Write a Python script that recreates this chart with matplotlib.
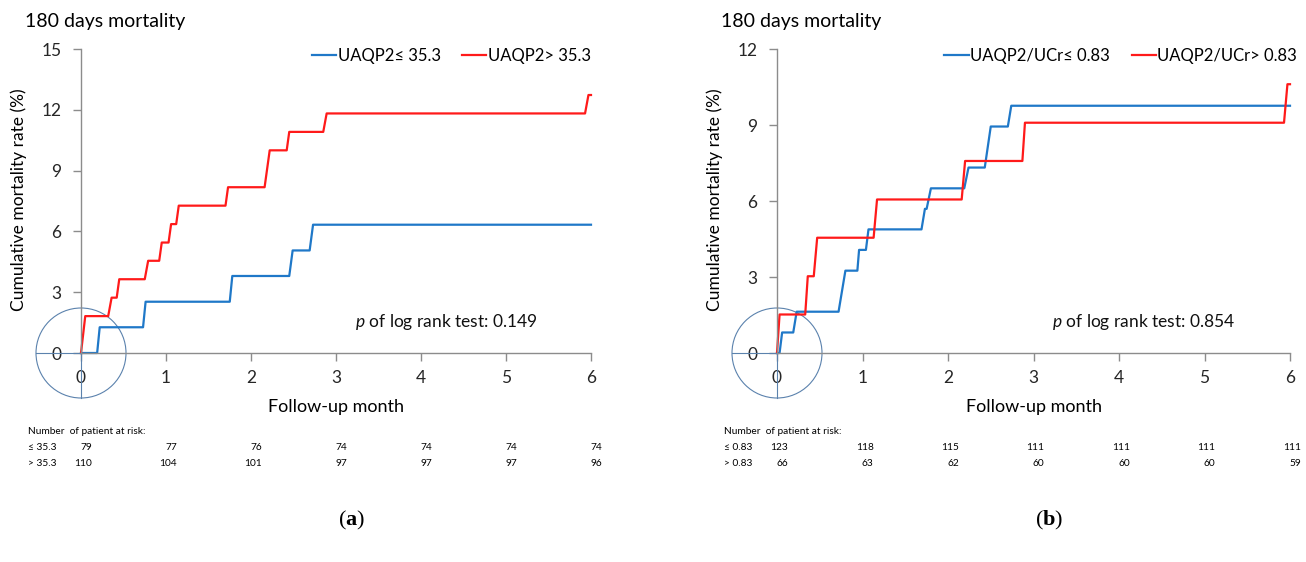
import numpy as np
import matplotlib
matplotlib.use("Agg")
import matplotlib.pyplot as plt
from matplotlib.patches import Ellipse
import matplotlib.transforms as mtransforms

plt.rcParams['font.family'] = ['Lato', 'DejaVu Sans']
plt.rcParams['mathtext.fontset'] = 'custom'
plt.rcParams['mathtext.it'] = 'Lato:italic'
plt.rcParams['mathtext.rm'] = 'Lato'
plt.rcParams['mathtext.bf'] = 'Liberation Serif:bold'

BLUE = '#1f78c8'
RED = '#ff1a1a'
GRAY = '#8c8c8c'
CIRCLE = '#5b82ad'

# ---- data (a) ----
a_low_x = [0, 0.19, 0.22, 0.73, 0.76, 1.75, 1.78, 2.45, 2.49, 2.69, 2.73, 6.0]
a_low_y = [0, 0, 1.27, 1.27, 2.53, 2.53, 3.80, 3.80, 5.06, 5.06, 6.33, 6.33]
a_high_x = [0, 0.05, 0.32, 0.36, 0.42, 0.45, 0.75, 0.79, 0.92, 0.95, 1.03, 1.06,
            1.12, 1.15, 1.70, 1.73, 2.16, 2.22, 2.42, 2.45, 2.85, 2.89, 5.93, 5.97, 6.0]
a_high_y = [0, 1.82, 1.82, 2.73, 2.73, 3.64, 3.64, 4.55, 4.55, 5.45, 5.45, 6.36,
            6.36, 7.27, 7.27, 8.18, 8.18, 10.0, 10.0, 10.91, 10.91, 11.82, 11.82, 12.73, 12.73]
a_labels = ['UAQP2≤ 35.3', 'UAQP2> 35.3']
a_risk_names = ['≤ 35.3', '> 35.3']
a_risk_low = [79, 77, 76, 74, 74, 74, 74]
a_risk_high = [110, 104, 101, 97, 97, 97, 96]
a_pval = '0.149'

# ---- data (b) ----
b_low_x = [0, 0.03, 0.06, 0.19, 0.23, 0.72, 0.80, 0.94, 0.96, 1.04, 1.07, 1.69,
           1.73, 1.75, 1.80, 2.19, 2.24, 2.43, 2.50, 2.70, 2.74, 6.0]
b_low_y = [0, 0, 0.81, 0.81, 1.63, 1.63, 3.25, 3.25, 4.07, 4.07, 4.88, 4.88,
           5.69, 5.69, 6.50, 6.50, 7.32, 7.32, 8.94, 8.94, 9.76, 9.76]
b_high_x = [0, 0.03, 0.33, 0.36, 0.43, 0.47, 1.13, 1.17, 2.16, 2.20, 2.87, 2.90, 5.93, 5.97, 6.0]
b_high_y = [0, 1.52, 1.52, 3.03, 3.03, 4.55, 4.55, 6.06, 6.06, 7.58, 7.58, 9.09, 9.09, 10.61, 10.61]
b_labels = ['UAQP2/UCr≤ 0.83', 'UAQP2/UCr> 0.83']
b_risk_names = ['≤ 0.83', '> 0.83']
b_risk_low = [123, 118, 115, 111, 111, 111, 111]
b_risk_high = [66, 63, 62, 60, 60, 60, 59]
b_pval = '0.854'

months = [0, 1, 2, 3, 4, 5, 6]

W, H = 1306, 562
fig = plt.figure(figsize=(W / 100, H / 100), dpi=100)


def panel(left_px, right_px, ymax, lowx, lowy, highx, highy, labels, names,
          risk_low, risk_high, pval, letter, leg_right):
    ax = fig.add_axes([left_px / W, 1 - 353 / H, (right_px - left_px) / W, 304 / H])
    ax.plot(lowx, lowy, color=BLUE, lw=1.6, label=labels[0], clip_on=False)
    ax.plot(highx, highy, color=RED, lw=1.6, label=labels[1], clip_on=False)
    ax.set_xlim(0, 6)
    ax.set_ylim(0, ymax)
    ax.set_xticks(months)
    ax.set_yticks(np.arange(0, ymax + 0.1, 3))
    for s in ['top', 'right']:
        ax.spines[s].set_visible(False)
    for s in ['left', 'bottom']:
        ax.spines[s].set_color(GRAY)
        ax.spines[s].set_linewidth(1.0)
    ax.tick_params(colors=GRAY, labelcolor='#262626', labelsize=12.5, length=6, width=1.0)
    ax.tick_params(axis='y', pad=8)
    ax.tick_params(axis='x', pad=6)

    # circle around the origin
    rx = 45 / ((right_px - left_px) / 6)
    ry = 45 / (304 / ymax)
    ax.add_patch(Ellipse((0, 0), 2 * rx, 2 * ry, fill=False, ec=CIRCLE, lw=0.8, clip_on=False))
    ax.plot([-rx, 0], [0, 0], color=CIRCLE, lw=0.8, clip_on=False)
    ax.plot([0, 0], [-ry, 0], color=CIRCLE, lw=0.8, clip_on=False)

    ax.legend(loc='center right', bbox_to_anchor=(leg_right, 0.977), ncol=2, frameon=False,
              fontsize=12, handlelength=1.45, handletextpad=0.1, columnspacing=1.3,
              borderaxespad=0, borderpad=0)
    ax.text(0.537, 0.102, r'$\it{p}$ of log rank test: ' + pval, transform=ax.transAxes,
            fontsize=12.5, va='center', ha='left', color='#111111')

    x0 = (left_px - 56) / W
    fig.text(x0, 1 - 22 / H, '180 days mortality', fontsize=14, va='center', ha='left')
    fig.text((left_px - 62) / W, 1 - 200 / H, 'Cumulative mortality rate (%)', rotation=90,
             fontsize=12.5, va='center', ha='center')
    fig.text((left_px + right_px) / 2 / W, 1 - 407 / H, 'Follow-up month', fontsize=13,
             va='center', ha='center')

    # number at risk table
    tr = mtransforms.blended_transform_factory(ax.transData, fig.transFigure)
    fig.text(x0 + 3 / W, 1 - 432 / H, 'Number  of patient at risk:', fontsize=7.3, va='center', ha='left')
    for row, (name, vals) in enumerate(zip(names, [risk_low, risk_high])):
        yy = 1 - (447 + 17 * row) / H
        fig.text(x0 + 3 / W, yy, name, fontsize=7.3, va='center', ha='left')
        for m, v in zip(months, vals):
            ax.text(m + 0.13, yy, str(v), transform=tr, fontsize=7.3, va='center', ha='right')

    fig.text((left_px + right_px) / 2 / W + 0.012, 1 - 520 / H, '(' + r'$\mathbf{' + letter + '}$' + ')',
             fontsize=16, family='Liberation Serif', va='center', ha='center')
    return ax


panel(81, 591, 15, a_low_x, a_low_y, a_high_x, a_high_y, a_labels, a_risk_names,
      a_risk_low, a_risk_high, a_pval, 'a', 1.0)
panel(777, 1290, 12, b_low_x, b_low_y, b_high_x, b_high_y, b_labels, b_risk_names,
      b_risk_low, b_risk_high, b_pval, 'b', 1.014)

fig.savefig('out.png', dpi=100)
